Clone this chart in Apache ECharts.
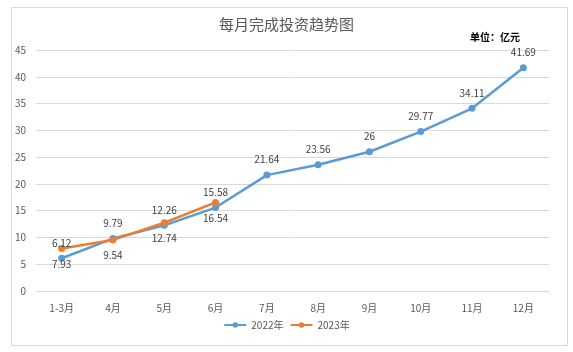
<!DOCTYPE html>
<html>
<head>
<meta charset="utf-8">
<script src="https://cdn.jsdelivr.net/npm/echarts@6/dist/echarts.min.js"></script>
<style>
  html, body { margin: 0; padding: 0; background: #fff; }
  #main { width: 573px; height: 352px; }
</style>
</head>
<body>
<div id="main"></div>
<script>
// data
var months = ['1-3月', '4月', '5月', '6月', '7月', '8月', '9月', '10月', '11月', '12月'];
var invest2022 = [6.12, 9.79, 12.26, 15.58, 21.64, 23.56, 26, 29.77, 34.11, 41.69];
var invest2023 = [7.93, 9.54, 12.74, 16.54];
var yTicks = { min: 0, max: 45, step: 5 };

var chart = echarts.init(document.getElementById('main'));
var font = '"Noto Sans CJK SC", "Noto Sans", sans-serif';

chart.setOption({
  animation: false,
  textStyle: { fontFamily: font },
  title: {
    text: '每月完成投资趋势图',
    left: 'center',
    top: 12,
    textStyle: { fontSize: 15, fontWeight: 'normal', color: '#595959', fontFamily: font }
  },
  graphic: [
    {
      type: 'rect',
      left: 9, top: 5,
      shape: { width: 556, height: 338 },
      style: { fill: 'none', stroke: '#d9d9d9', lineWidth: 1 },
      silent: true
    },
    {
      type: 'text',
      right: 53, top: 32,
      style: { text: '单位：亿元', font: 'bold 10px "Noto Sans CJK SC"', fill: '#000' }
    }
  ],
  legend: {
    bottom: 17,
    left: 'center',
    itemWidth: 22,
    itemHeight: 7,
    itemGap: 6,
    textStyle: { fontSize: 10, color: '#595959', fontFamily: font },
    data: ['2022年', '2023年']
  },
  grid: { left: 36, right: 24, top: 50, bottom: 61, containLabel: false },
  xAxis: {
    type: 'category',
    data: months,
    boundaryGap: true,
    axisLine: { lineStyle: { color: '#d9d9d9' } },
    axisTick: { show: false },
    axisLabel: { color: '#595959', fontSize: 10, margin: 12 }
  },
  yAxis: {
    type: 'value',
    min: yTicks.min,
    max: yTicks.max,
    interval: yTicks.step,
    axisLine: { show: false },
    axisTick: { show: false },
    splitLine: { lineStyle: { color: '#d9d9d9', width: 1 } },
    axisLabel: { color: '#595959', fontSize: 10, margin: 10 }
  },
  series: [
    {
      name: '2022年',
      type: 'line',
      data: invest2022,
      color: '#5B9BD5',
      symbol: 'circle',
      symbolSize: 7,
      lineStyle: { width: 2.5 },
      label: { show: true, position: 'top', distance: 7, color: '#404040', fontSize: 10 }
    },
    {
      name: '2023年',
      type: 'line',
      data: invest2023,
      color: '#ED7D31',
      symbol: 'circle',
      symbolSize: 7,
      lineStyle: { width: 2.5 },
      label: { show: true, position: 'bottom', distance: 7, color: '#404040', fontSize: 10 }
    }
  ]
});
</script>
</body>
</html>
